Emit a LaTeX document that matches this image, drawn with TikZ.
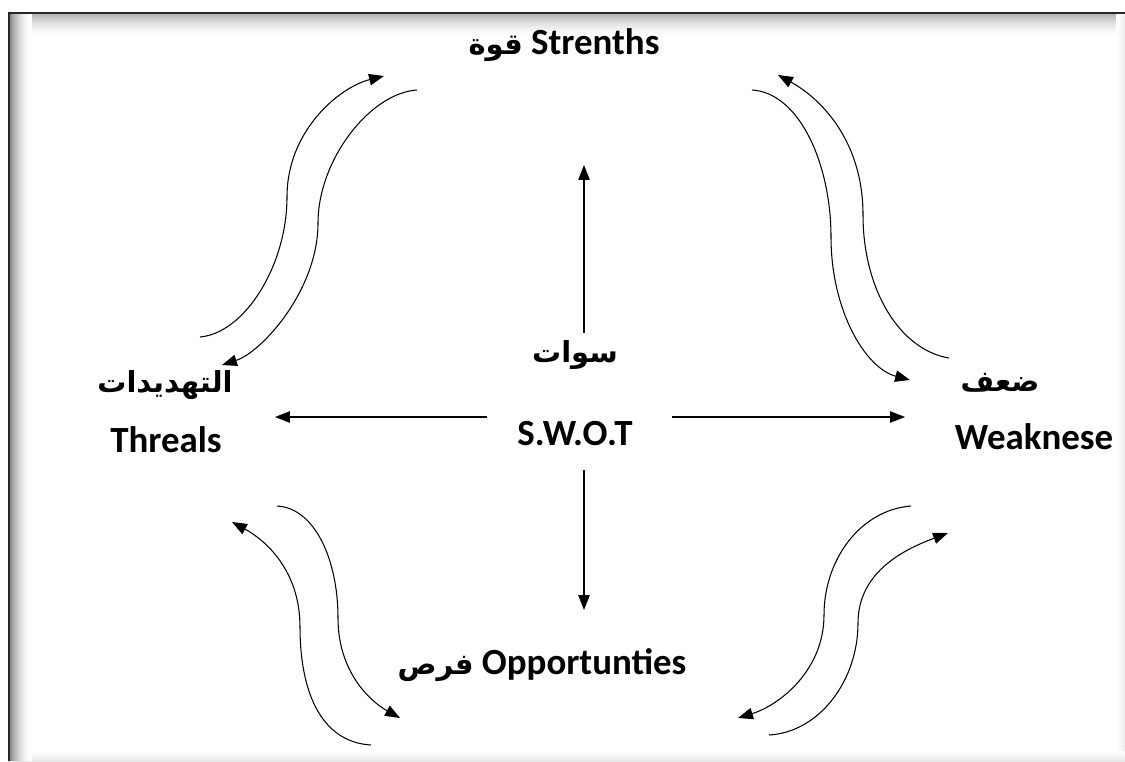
\documentclass[tikz,border=0pt]{standalone}
\usepackage{fontspec}
\setmainfont{Carlito}
\newfontfamily\arabicfont[Script=Arabic]{DejaVu Sans}
\TeXXeTstate=1
\usetikzlibrary{arrows.meta}

\begin{document}
\begin{tikzpicture}[x=0.02cm, y=-0.02cm,
    arr/.style={-{Triangle[length=8.5pt, width=6.5pt]}, line width=0.6pt},
    lbl/.style={font=\fontsize{21}{25}\selectfont\bfseries, inner sep=0pt},
    albl/.style={font=\fontsize{16.5}{20}\selectfont\arabicfont\bfseries, inner sep=0pt}]
    \useasboundingbox (0,0) rectangle (1125,761);

    % Frame with inner shadow
    \fill[white] (0,0) rectangle (1125,761);
    \foreach \i in {0,...,25} {
        \pgfmathsetmacro{\shd}{32*(1-\i/26)^2}
        \fill[black!\shd] (9,13+\i) rectangle (1125,14.05+\i);
    }
    \shade[left color=white, right color=black!7] (1116,13) rectangle (1125,761);
    \shade[top color=white, bottom color=black!9] (9,751) rectangle (1125,761);
    \foreach \i in {0,...,22} {
        \pgfmathsetmacro{\shd}{50*(1-\i/23)^2}
        \fill[black!\shd] (9+\i,13) rectangle (10.05+\i,761);
    }
    \draw[black!85, line width=1.2pt] (9,761) -- (9,13) -- (1125,13);

    % Labels
    \node[lbl] (str) at (564,45) {{\arabicfont\fontsize{16.5}{20}\selectfont\beginR قوة\endR}\ Strenths};
    \node[albl] (sawat) at (575,355) {\beginR سوات\endR};
    \node[lbl] (swot) at (575,434) {S.W.O.T};
    \node[albl] (thrAr) at (165,385) {\beginR التهديدات\endR};
    \node[lbl] (thrEn) at (166,440) {Threals};
    \node[albl] (wkAr) at (1000,383) {\beginR ضعف\endR};
    \node[lbl] (wkEn) at (1034,437) {Weaknese};
    \node[lbl] (opp) at (542,665) {{\arabicfont\fontsize{16.5}{20}\selectfont\beginR فرص\endR}\ Opportunties};

    % Straight arrows out of the centre
    \coordinate (upB) at (584,333); \coordinate (upT) at (584,165);
    \coordinate (dnT) at (584,470); \coordinate (dnB) at (584,610);
    \coordinate (lfR) at (487,417); \coordinate (lfL) at (275,417);
    \coordinate (rtL) at (672,417); \coordinate (rtR) at (905,417);
    \foreach \a/\b in {upB/upT, dnT/dnB, lfR/lfL, rtL/rtR}
        \draw[arr] (\a) -- (\b);

    % Curved arrows, top left
    \coordinate (tlOa) at (200,337); \coordinate (tlOb) at (384,76);
    \coordinate (tlIa) at (417,90);  \coordinate (tlIb) at (222,365);
    \draw[arr] (tlOa) .. controls (245,333) and (287,265) .. (287,197)
        .. controls (287,130) and (340,87) .. (tlOb);
    \draw[arr] (tlIa) .. controls (370,93) and (318,160) .. (318,223)
        .. controls (318,290) and (262,352) .. (tlIb);

    % Curved arrows, top right
    \coordinate (trOa) at (949,358); \coordinate (trOb) at (778,75);
    \coordinate (trIa) at (752,90);  \coordinate (trIb) at (910,380);
    \draw[arr] (trOa) .. controls (900,350) and (863,290) .. (863,215)
        .. controls (863,140) and (820,98) .. (trOb);
    \draw[arr] (trIa) .. controls (800,93) and (831,165) .. (831,237)
        .. controls (831,310) and (865,368) .. (trIb);

    % Curved arrows, bottom left
    \coordinate (blOa) at (371,745); \coordinate (blOb) at (232,522);
    \coordinate (blIa) at (277,506); \coordinate (blIb) at (400,718);
    \draw[arr] (blOa) .. controls (320,742) and (300,690) .. (300,627)
        .. controls (300,570) and (265,540) .. (blOb);
    \draw[arr] (blIa) .. controls (315,508) and (338,560) .. (338,618)
        .. controls (338,670) and (368,700) .. (blIb);

    % Curved arrows, bottom right
    \coordinate (brUa) at (911,506); \coordinate (brUb) at (738,718);
    \coordinate (brLa) at (769,735); \coordinate (brLb) at (948,533);
    \draw[arr] (brUa) .. controls (860,510) and (824,560) .. (824,615)
        .. controls (824,670) and (780,705) .. (brUb);
    \draw[arr] (brLa) .. controls (820,732) and (858,680) .. (858,623)
        .. controls (858,570) and (908,548) .. (brLb);
\end{tikzpicture}
\end{document}
